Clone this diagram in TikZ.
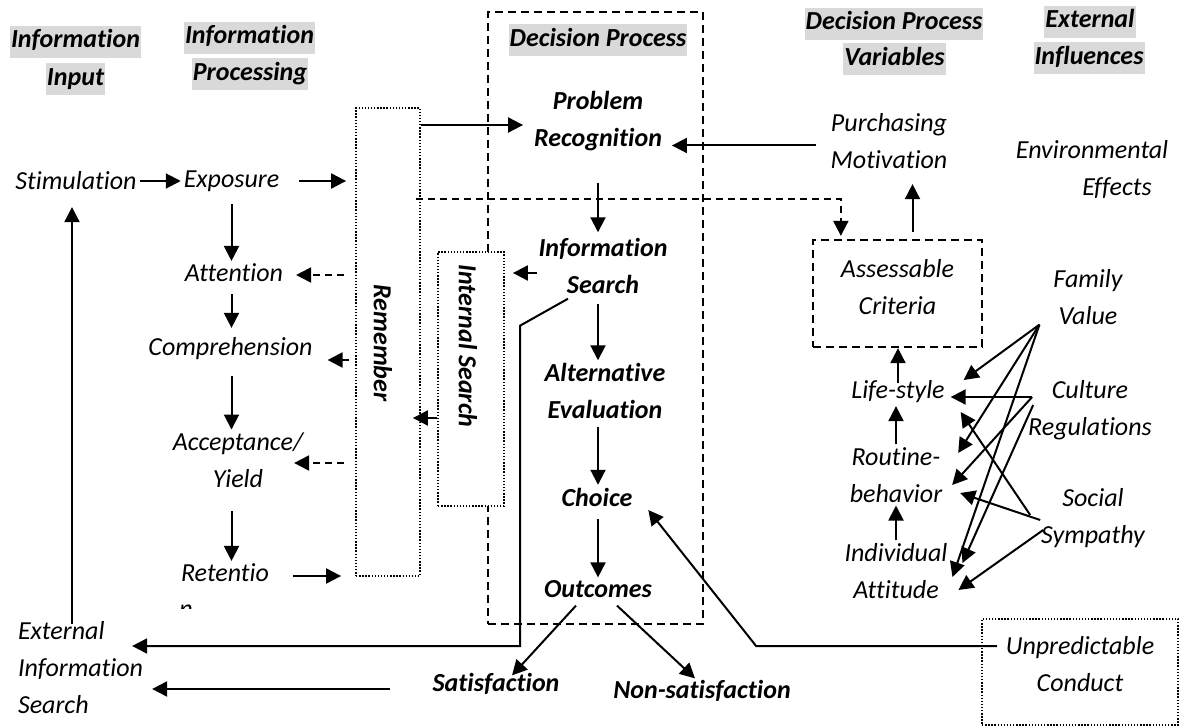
\documentclass[tikz,border=0pt]{standalone}
\usepackage{fontspec}
\setmainfont{Carlito}[Ligatures={NoCommon,NoContextual}, RawFeature={-liga;-clig;-calt;-dlig}]
\usetikzlibrary{arrows.meta,calc}
\definecolor{hdgray}{HTML}{D9D9D9}

\begin{document}
\begin{tikzpicture}[x=1pt, y=-1pt, line width=2pt,
  every node/.style={font=\fontsize{26}{37}\selectfont\itshape, inner sep=2pt, align=center},
  bld/.style={font=\fontsize{26}{37}\selectfont\bfseries\itshape},
  hdr/.style={bld, fill=hdgray, inner xsep=1pt, inner ysep=3pt, text height=19pt, text depth=7pt},
  arr/.style={-{Triangle[length=15pt,width=15pt]}},
  darr/.style={arr, dash pattern=on 7pt off 5pt},
  dashbox/.style={draw, line width=2.3pt, dash pattern=on 8pt off 5pt},
  dotbox/.style={draw, line width=1.8pt, dash pattern=on 1.4pt off 1.7pt}]

  %% ════ frames ════
  \node[dashbox, minimum width=215pt, minimum height=612pt] (dp) at (595.5,318) {};
  \node[dotbox, minimum width=64pt, minimum height=468pt] (rem) at (388,342) {};
  \node[dotbox, fill=white, minimum width=66pt, minimum height=254pt] (intsr) at (471,379) {};
  \node[dashbox, minimum width=169pt, minimum height=107pt] (crit) at (897.5,293.5) {};
  \node[dotbox, minimum width=196pt, minimum height=106pt] (unp) at (1080,672) {};

  %% ════ column headers ════
  \node[hdr] (h1a) at (75.5,42) {Information};
  \node[hdr] (h1b) at (75.5,79.5) {Input};
  \node[hdr] (h2a) at (249.5,38) {Information};
  \node[hdr] (h2b) at (250,74.5) {Processing};
  \node[hdr] (h3) at (598,40.5) {Decision Process};
  \node[hdr] (h4a) at (894,24) {Decision Process};
  \node[hdr] (h4b) at (894.5,59.5) {Variables};
  \node[hdr] (h5a) at (1090,22) {External};
  \node[hdr] (h5b) at (1089,58.5) {Influences};

  %% ════ input / processing ════
  \node (stim) at (76,181) {Stimulation};
  \node (expo) at (231.5,181) {Exposure};
  \node (attn) at (234,273) {Attention};
  \node (comp) at (230.5,349) {Comprehension};
  \node (acc) at (238,460) {Acceptance/\\Yield};
  \node (ret) at (225,573) {Retentio};
  \begin{scope}
    \clip (170,601) rectangle (200,608);
    \node (retn) at (186,611) {n};
  \end{scope}
  \node[align=left, anchor=west] (ext) at (15,668) {External\\Information\\Search};
  \node[bld, rotate=-90] (remt) at (383,343) {Remember};
  \node[bld, rotate=-90] (intt) at (468,346) {Internal Search};

  %% ════ decision process ════
  \node[bld] (prob) at (598,121) {Problem\\Recognition};
  \node[bld] (isrch) at (603,266) {Information\\Search};
  \node[bld] (alt) at (605,391) {Alternative\\Evaluation};
  \node[bld] (choice) at (597,497) {Choice};
  \node[bld] (outc) at (598,589) {Outcomes};
  \node[bld] (sat) at (496,684) {Satisfaction};
  \node[bld] (nonsat) at (702,691) {Non-satisfaction};

  %% ════ variables / influences ════
  \node (purch) at (889,141.5) {Purchasing\\Motivation};
  \node (env) at (1092,169) {Environmental\\\hspace*{50pt}Effects};
  \node (critt) at ($(crit)+(0,-6)$) {Assessable\\Criteria};
  \node (life) at (898,392) {Life-style};
  \node (rout) at (896,475) {Routine-\\behavior};
  \node (indiv) at (896,571) {Individual\\Attitude};
  \node (fam) at (1088,297) {Family\\Value};
  \node (cult) at (1090,410) {Culture\\Regulations};
  \node (soc) at (1093,518) {Social\\Sympathy};
  \node (unpt) at ($(unp)+(0,-8)$) {Unpredictable\\Conduct};

  %% ════ processing chain ════
  \draw[arr] (stim) -- (expo);
  \draw[arr, shorten >=9pt] ($(expo.east)+(17,0)$) -- (rem.west |- expo);
  \draw[arr, shorten <=10pt] (expo.south) -- (expo.south |- attn.north);
  \draw[arr, shorten <=9pt, shorten >=7pt] (attn.south -| expo) -- (comp.north -| expo);
  \draw[arr, shorten <=13pt] (comp.south -| expo) -- (acc.north -| expo);
  \draw[arr, shorten <=21pt] (acc.south -| expo) -- (ret.north -| expo);
  \draw[arr, shorten >=14pt] ($(ret.east)+(21,3)$) -- ($(rem.west |- ret)+(0,3)$);
  \draw[darr] ($(rem.west |- attn)+(-11,2)$) -- ($(attn.east)+(10,2)$);
  \draw[arr] ($(rem.west |- comp)+(-6,11)$) -- ($(comp.east)+(12,11)$);
  \draw[darr] ($(rem.west |- acc)+(-11,3)$) -- ($(acc.east)+(-12,3)$);
  \draw[arr] ($(ext.north west)+(57,5)$) coordinate (e0) -- (e0 |- stim.south) [shorten >=14pt];

  %% ════ memory links ════
  \draw[arr] ($(rem.east |- prob)+(0,4)$) -- ($(prob.west)+(-8,4)$);
  \draw[darr] ($(rem.north east)+(-5,92)$) -| ($(crit.north west)+(29,-3)$);
  \draw[arr] ($(isrch.west)+(1,7)$) -- ($(intsr.east |- isrch)+(8,7)$);
  \draw[arr] ($(intsr.west)+(0,39)$) -- ($(rem.east |- intsr.west)+(-8,39)$);

  %% ════ decision chain ════
  \draw[arr, shorten <=29pt, shorten >=3pt] (prob.south -| prob) -- (isrch.north -| prob);
  \draw[arr, shorten <=7pt] (isrch.south -| prob) -- (alt.north -| prob);
  \draw[arr, shorten <=5pt] (alt.south -| prob) -- (choice.north -| prob);
  \draw[arr, shorten <=10pt] (choice.south -| prob) -- (outc.north -| prob);
  \draw[arr] ($(outc.south)+(-22,5)$) -- ($(sat.north)+(16,5)$);
  \draw[arr] ($(outc.south)+(19,5)$) -- ($(nonsat.north)+(-7,1)$);
  \draw[arr] ($(isrch.south)+(-35,2)$) -- ++(-48,27) |- ($(ext.east)+(-14,-22)$);
  \draw[arr] ($(sat.west)+(-40,5)$) -- ($(ext.east)+(6,21)$);
  \draw[arr] ($(unp.west)+(16,-26)$) -- ($(unp.west)+(-225,-26)$) -- ($(choice.east)+(13,13)$);

  %% ════ variables ════
  \draw[arr] ($(purch.west)+(-12,4)$) -- ($(prob.east |- purch)+(7,4)$);
  \draw[arr] ($(crit.north)+(15,-7)$) coordinate (c0) -- (c0 |- purch.south) [shorten >=12pt];
  \draw[arr, shorten <=-5pt] (life.north) -- (life.north |- crit.south);
  \draw[arr] (rout.north -| rout) -- (life.south -| rout);
  \draw[arr] (indiv.north -| rout) -- (rout.south -| rout);

  %% ════ external influences ════
  \coordinate (famO) at ($(fam.south west)+(-11,-3)$);
  \coordinate (cultA) at ($(cult.west)+(7,-13)$);
  \coordinate (cultB) at ($(cult.west)+(8,-5)$);
  \coordinate (socA) at ($(soc.west)+(-8,-3)$);
  \coordinate (socB) at ($(soc.west)+(2,2)$);
  \coordinate (socC) at ($(soc.west)+(5,12)$);
  \draw[arr] (famO) -- ($(life.east)+(16,-12)$);
  \draw[arr] (famO) -- ($(rout.east)+(13,-22)$);
  \draw[arr] (famO) -- ($(indiv.east)+(2,6)$);
  \draw[arr] (cultA) -- ($(life.east)+(3,5)$);
  \draw[arr] (cultA) -- ($(rout.east)+(7,10)$);
  \draw[arr] (cultB) -- ($(indiv.east)+(12,-8)$);
  \draw[arr] (socA) -- ($(life.east)+(13,20)$);
  \draw[arr] (socB) -- ($(rout.east)+(15,18)$);
  \draw[arr] (socC) -- ($(indiv.east)+(8,19)$);

  \pgfresetboundingbox
  \path[use as bounding box] (0,0) rectangle (1181,727);
\end{tikzpicture}
\end{document}
